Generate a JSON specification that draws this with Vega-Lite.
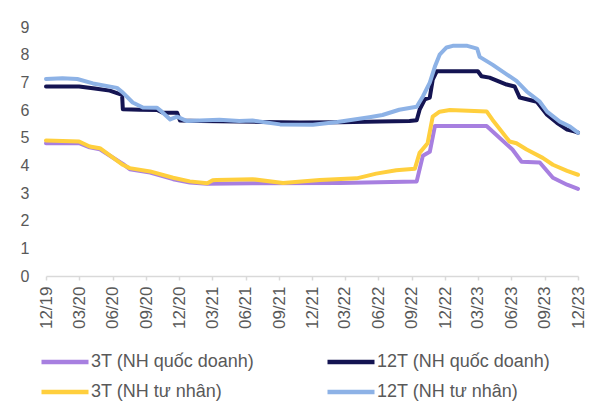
{
  "$schema": "https://vega.github.io/schema/vega-lite/v6.json",
  "width": 532,
  "height": 249,
  "autosize": {"type": "none"},
  "padding": {"left": 46, "top": 27, "right": 37, "bottom": 143},
  "config": {
    "view": {"stroke": null},
    "font": "Liberation Sans",
    "axis": {"labelColor": "#595959", "labelFont": "Liberation Sans", "grid": false, "title": null},
    "legend": {"labelFont": "Liberation Sans", "labelColor": "#595959"}
  },
  "datasets": {
    "rates": [
      {"d": "2019-12-01", "s": "3T (NH quốc doanh)", "v": 4.80},
      {"d": "2020-03-01", "s": "3T (NH quốc doanh)", "v": 4.80},
      {"d": "2020-03-30", "s": "3T (NH quốc doanh)", "v": 4.65},
      {"d": "2020-04-27", "s": "3T (NH quốc doanh)", "v": 4.58},
      {"d": "2020-06-29", "s": "3T (NH quốc doanh)", "v": 4.05},
      {"d": "2020-07-18", "s": "3T (NH quốc doanh)", "v": 3.86},
      {"d": "2020-09-12", "s": "3T (NH quốc doanh)", "v": 3.74},
      {"d": "2020-11-14", "s": "3T (NH quốc doanh)", "v": 3.50},
      {"d": "2020-12-30", "s": "3T (NH quốc doanh)", "v": 3.38},
      {"d": "2021-02-16", "s": "3T (NH quốc doanh)", "v": 3.33},
      {"d": "2021-06-20", "s": "3T (NH quốc doanh)", "v": 3.35},
      {"d": "2022-02-16", "s": "3T (NH quốc doanh)", "v": 3.36},
      {"d": "2022-09-14", "s": "3T (NH quốc doanh)", "v": 3.42},
      {"d": "2022-10-01", "s": "3T (NH quốc doanh)", "v": 4.35},
      {"d": "2022-10-20", "s": "3T (NH quốc doanh)", "v": 4.49},
      {"d": "2022-11-03", "s": "3T (NH quốc doanh)", "v": 5.42},
      {"d": "2023-03-25", "s": "3T (NH quốc doanh)", "v": 5.42},
      {"d": "2023-06-04", "s": "3T (NH quốc doanh)", "v": 4.57},
      {"d": "2023-06-29", "s": "3T (NH quốc doanh)", "v": 4.13},
      {"d": "2023-08-18", "s": "3T (NH quốc doanh)", "v": 4.10},
      {"d": "2023-09-23", "s": "3T (NH quốc doanh)", "v": 3.55},
      {"d": "2023-11-01", "s": "3T (NH quốc doanh)", "v": 3.30},
      {"d": "2023-12-01", "s": "3T (NH quốc doanh)", "v": 3.15},

      {"d": "2019-12-01", "s": "12T (NH quốc doanh)", "v": 6.85},
      {"d": "2020-03-01", "s": "12T (NH quốc doanh)", "v": 6.85},
      {"d": "2020-04-13", "s": "12T (NH quốc doanh)", "v": 6.78},
      {"d": "2020-05-24", "s": "12T (NH quốc doanh)", "v": 6.70},
      {"d": "2020-06-15", "s": "12T (NH quốc doanh)", "v": 6.60},
      {"d": "2020-06-27", "s": "12T (NH quốc doanh)", "v": 6.55},
      {"d": "2020-06-29", "s": "12T (NH quốc doanh)", "v": 6.03},
      {"d": "2020-08-15", "s": "12T (NH quốc doanh)", "v": 6.01},
      {"d": "2020-10-01", "s": "12T (NH quốc doanh)", "v": 6.00},
      {"d": "2020-10-17", "s": "12T (NH quốc doanh)", "v": 5.90},
      {"d": "2020-11-25", "s": "12T (NH quốc doanh)", "v": 5.90},
      {"d": "2020-12-03", "s": "12T (NH quốc doanh)", "v": 5.62},
      {"d": "2021-01-28", "s": "12T (NH quốc doanh)", "v": 5.60},
      {"d": "2021-07-10", "s": "12T (NH quốc doanh)", "v": 5.57},
      {"d": "2021-10-28", "s": "12T (NH quốc doanh)", "v": 5.55},
      {"d": "2022-02-16", "s": "12T (NH quốc doanh)", "v": 5.56},
      {"d": "2022-06-04", "s": "12T (NH quốc doanh)", "v": 5.58},
      {"d": "2022-08-25", "s": "12T (NH quốc doanh)", "v": 5.60},
      {"d": "2022-09-14", "s": "12T (NH quốc doanh)", "v": 5.63},
      {"d": "2022-09-22", "s": "12T (NH quốc doanh)", "v": 6.01},
      {"d": "2022-10-06", "s": "12T (NH quốc doanh)", "v": 6.38},
      {"d": "2022-10-20", "s": "12T (NH quốc doanh)", "v": 6.45},
      {"d": "2022-10-28", "s": "12T (NH quốc doanh)", "v": 7.10},
      {"d": "2022-11-08", "s": "12T (NH quốc doanh)", "v": 7.40},
      {"d": "2023-03-01", "s": "12T (NH quốc doanh)", "v": 7.40},
      {"d": "2023-03-11", "s": "12T (NH quốc doanh)", "v": 7.22},
      {"d": "2023-04-02", "s": "12T (NH quốc doanh)", "v": 7.17},
      {"d": "2023-05-19", "s": "12T (NH quốc doanh)", "v": 6.92},
      {"d": "2023-06-10", "s": "12T (NH quốc doanh)", "v": 6.85},
      {"d": "2023-06-24", "s": "12T (NH quốc doanh)", "v": 6.45},
      {"d": "2023-08-10", "s": "12T (NH quốc doanh)", "v": 6.30},
      {"d": "2023-09-07", "s": "12T (NH quốc doanh)", "v": 5.83},
      {"d": "2023-10-04", "s": "12T (NH quốc doanh)", "v": 5.54},
      {"d": "2023-11-01", "s": "12T (NH quốc doanh)", "v": 5.29},
      {"d": "2023-11-23", "s": "12T (NH quốc doanh)", "v": 5.22},
      {"d": "2023-12-01", "s": "12T (NH quốc doanh)", "v": 5.18},

      {"d": "2019-12-01", "s": "3T (NH tư nhân)", "v": 4.90},
      {"d": "2020-03-01", "s": "3T (NH tư nhân)", "v": 4.86},
      {"d": "2020-03-30", "s": "3T (NH tư nhân)", "v": 4.68},
      {"d": "2020-04-27", "s": "3T (NH tư nhân)", "v": 4.62},
      {"d": "2020-06-29", "s": "3T (NH tư nhân)", "v": 4.02},
      {"d": "2020-07-18", "s": "3T (NH tư nhân)", "v": 3.90},
      {"d": "2020-09-12", "s": "3T (NH tư nhân)", "v": 3.78},
      {"d": "2020-11-14", "s": "3T (NH tư nhân)", "v": 3.55},
      {"d": "2020-12-30", "s": "3T (NH tư nhân)", "v": 3.42},
      {"d": "2021-02-16", "s": "3T (NH tư nhân)", "v": 3.35},
      {"d": "2021-03-03", "s": "3T (NH tư nhân)", "v": 3.46},
      {"d": "2021-03-13", "s": "3T (NH tư nhân)", "v": 3.47},
      {"d": "2021-06-20", "s": "3T (NH tư nhân)", "v": 3.50},
      {"d": "2021-09-12", "s": "3T (NH tư nhân)", "v": 3.36},
      {"d": "2021-12-22", "s": "3T (NH tư nhân)", "v": 3.47},
      {"d": "2022-04-02", "s": "3T (NH tư nhân)", "v": 3.53},
      {"d": "2022-05-26", "s": "3T (NH tư nhân)", "v": 3.70},
      {"d": "2022-07-20", "s": "3T (NH tư nhân)", "v": 3.82},
      {"d": "2022-09-09", "s": "3T (NH tư nhân)", "v": 3.88},
      {"d": "2022-09-22", "s": "3T (NH tư nhân)", "v": 4.45},
      {"d": "2022-10-14", "s": "3T (NH tư nhân)", "v": 4.80},
      {"d": "2022-10-28", "s": "3T (NH tư nhân)", "v": 5.76},
      {"d": "2022-11-16", "s": "3T (NH tư nhân)", "v": 5.94},
      {"d": "2022-12-14", "s": "3T (NH tư nhân)", "v": 6.00},
      {"d": "2023-03-25", "s": "3T (NH tư nhân)", "v": 5.95},
      {"d": "2023-04-10", "s": "3T (NH tư nhân)", "v": 5.65},
      {"d": "2023-05-27", "s": "3T (NH tư nhân)", "v": 4.86},
      {"d": "2023-06-15", "s": "3T (NH tư nhân)", "v": 4.80},
      {"d": "2023-07-13", "s": "3T (NH tư nhân)", "v": 4.57},
      {"d": "2023-08-26", "s": "3T (NH tư nhân)", "v": 4.27},
      {"d": "2023-09-23", "s": "3T (NH tư nhân)", "v": 4.02},
      {"d": "2023-11-01", "s": "3T (NH tư nhân)", "v": 3.80},
      {"d": "2023-12-01", "s": "3T (NH tư nhân)", "v": 3.66},

      {"d": "2019-12-01", "s": "12T (NH tư nhân)", "v": 7.12},
      {"d": "2020-01-15", "s": "12T (NH tư nhân)", "v": 7.15},
      {"d": "2020-02-25", "s": "12T (NH tư nhân)", "v": 7.12},
      {"d": "2020-04-08", "s": "12T (NH tư nhân)", "v": 6.96},
      {"d": "2020-06-13", "s": "12T (NH tư nhân)", "v": 6.80},
      {"d": "2020-06-29", "s": "12T (NH tư nhân)", "v": 6.63},
      {"d": "2020-07-26", "s": "12T (NH tư nhân)", "v": 6.27},
      {"d": "2020-08-23", "s": "12T (NH tư nhân)", "v": 6.09},
      {"d": "2020-10-01", "s": "12T (NH tư nhân)", "v": 6.08},
      {"d": "2020-10-14", "s": "12T (NH tư nhân)", "v": 5.94},
      {"d": "2020-11-06", "s": "12T (NH tư nhân)", "v": 5.66},
      {"d": "2020-11-25", "s": "12T (NH tư nhân)", "v": 5.76},
      {"d": "2020-12-22", "s": "12T (NH tư nhân)", "v": 5.60},
      {"d": "2021-03-21", "s": "12T (NH tư nhân)", "v": 5.65},
      {"d": "2021-05-15", "s": "12T (NH tư nhân)", "v": 5.60},
      {"d": "2021-06-20", "s": "12T (NH tư nhân)", "v": 5.62},
      {"d": "2021-09-04", "s": "12T (NH tư nhân)", "v": 5.48},
      {"d": "2021-12-03", "s": "12T (NH tư nhân)", "v": 5.47},
      {"d": "2022-02-08", "s": "12T (NH tư nhân)", "v": 5.57},
      {"d": "2022-05-07", "s": "12T (NH tư nhân)", "v": 5.74},
      {"d": "2022-06-12", "s": "12T (NH tư nhân)", "v": 5.82},
      {"d": "2022-07-28", "s": "12T (NH tư nhân)", "v": 6.01},
      {"d": "2022-09-14", "s": "12T (NH tư nhân)", "v": 6.12},
      {"d": "2022-10-01", "s": "12T (NH tư nhân)", "v": 6.49},
      {"d": "2022-10-20", "s": "12T (NH tư nhân)", "v": 6.99},
      {"d": "2022-11-03", "s": "12T (NH tư nhân)", "v": 7.57},
      {"d": "2022-11-16", "s": "12T (NH tư nhân)", "v": 8.00},
      {"d": "2022-12-05", "s": "12T (NH tư nhân)", "v": 8.26},
      {"d": "2022-12-22", "s": "12T (NH tư nhân)", "v": 8.32},
      {"d": "2023-01-31", "s": "12T (NH tư nhân)", "v": 8.32},
      {"d": "2023-02-27", "s": "12T (NH tư nhân)", "v": 8.22},
      {"d": "2023-03-06", "s": "12T (NH tư nhân)", "v": 7.92},
      {"d": "2023-04-10", "s": "12T (NH tư nhân)", "v": 7.64},
      {"d": "2023-06-15", "s": "12T (NH tư nhân)", "v": 7.05},
      {"d": "2023-07-13", "s": "12T (NH tư nhân)", "v": 6.67},
      {"d": "2023-08-18", "s": "12T (NH tư nhân)", "v": 6.30},
      {"d": "2023-09-07", "s": "12T (NH tư nhân)", "v": 5.94},
      {"d": "2023-10-12", "s": "12T (NH tư nhân)", "v": 5.58},
      {"d": "2023-11-09", "s": "12T (NH tư nhân)", "v": 5.40},
      {"d": "2023-12-01", "s": "12T (NH tư nhân)", "v": 5.18}
    ]
  },
  "data": {"name": "rates"},
  "mark": {"type": "line", "strokeWidth": 4, "strokeJoin": "round", "strokeCap": "round"},
  "encoding": {
    "x": {
      "field": "d",
      "type": "temporal",
      "scale": {
        "type": "utc",
        "domain": [
          {"year": 2019, "month": 12, "date": 1, "utc": true},
          {"year": 2023, "month": 12, "date": 1, "utc": true}
        ]
      },
      "axis": {
        "values": [
          {"year": 2019, "month": 12, "date": 1, "utc": true},
          {"year": 2020, "month": 3, "date": 1, "utc": true},
          {"year": 2020, "month": 6, "date": 1, "utc": true},
          {"year": 2020, "month": 9, "date": 1, "utc": true},
          {"year": 2020, "month": 12, "date": 1, "utc": true},
          {"year": 2021, "month": 3, "date": 1, "utc": true},
          {"year": 2021, "month": 6, "date": 1, "utc": true},
          {"year": 2021, "month": 9, "date": 1, "utc": true},
          {"year": 2021, "month": 12, "date": 1, "utc": true},
          {"year": 2022, "month": 3, "date": 1, "utc": true},
          {"year": 2022, "month": 6, "date": 1, "utc": true},
          {"year": 2022, "month": 9, "date": 1, "utc": true},
          {"year": 2022, "month": 12, "date": 1, "utc": true},
          {"year": 2023, "month": 3, "date": 1, "utc": true},
          {"year": 2023, "month": 6, "date": 1, "utc": true},
          {"year": 2023, "month": 9, "date": 1, "utc": true},
          {"year": 2023, "month": 12, "date": 1, "utc": true}
        ],
        "format": "%m/%y",
        "labelAngle": -90,
        "labelFontSize": 17,
        "labelPadding": 6,
        "tickSize": 4,
        "domainColor": "#d9d9d9",
        "tickColor": "#d9d9d9",
        "domainWidth": 1.5,
        "tickWidth": 1.5,
        "labelOverlap": false,
        "labelBound": false,
        "labelFlush": false
      }
    },
    "y": {
      "field": "v",
      "type": "quantitative",
      "scale": {"domain": [0, 9], "nice": false, "zero": true},
      "axis": {
        "values": [0, 1, 2, 3, 4, 5, 6, 7, 8, 9],
        "domain": false,
        "ticks": false,
        "labelFontSize": 16,
        "labelPadding": 17
      }
    },
    "color": {
      "field": "s",
      "type": "nominal",
      "scale": {
        "domain": ["3T (NH quốc doanh)", "12T (NH quốc doanh)", "3T (NH tư nhân)", "12T (NH tư nhân)"],
        "range": ["#A77FE0", "#141452", "#FFCF3D", "#8DB2E6"]
      },
      "legend": {
        "title": null,
        "orient": "none",
        "direction": "horizontal",
        "legendX": -7,
        "legendY": 326,
        "columns": 2,
        "symbolType": "stroke",
        "symbolSize": 2209,
        "symbolStrokeWidth": 4.5,
        "clipHeight": 18,
        "rowPadding": 12,
        "columnPadding": 70,
        "labelOffset": 0,
        "labelFontSize": 18,
        "labelLimit": 400
      }
    },
    "order": {"field": "d", "type": "temporal"}
  }
}
